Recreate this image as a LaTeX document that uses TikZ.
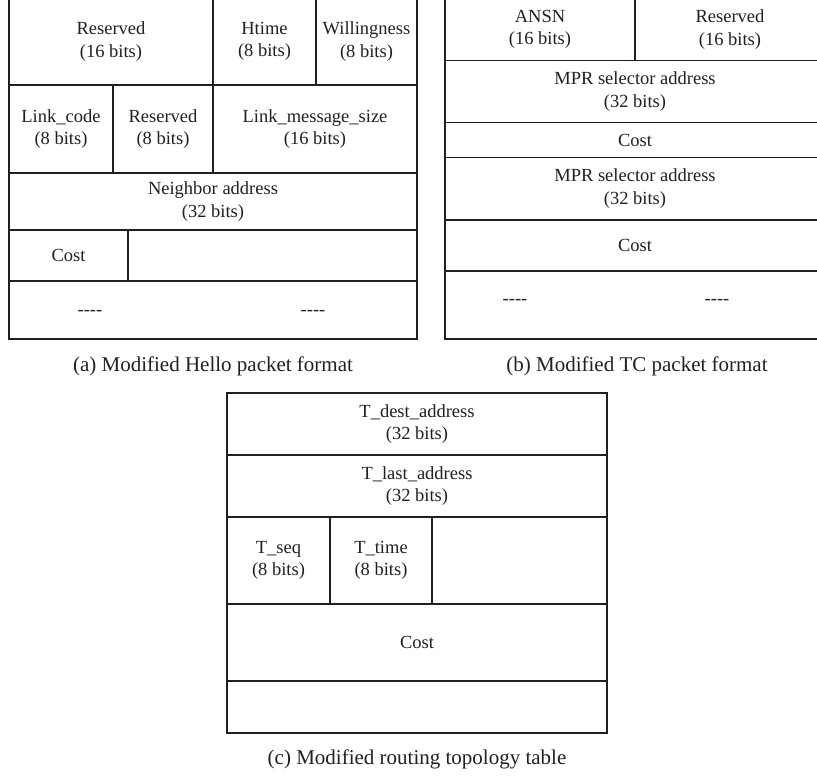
\documentclass[tikz,border=0pt]{standalone}
\usepackage{fontspec}
\setmainfont{Liberation Serif}
\definecolor{ink}{HTML}{231F20}
\newcommand{\cellfont}{\fontsize{18.5}{22.5}\selectfont}
\newcommand{\capfont}{\fontsize{21}{25}\selectfont}
\newcommand{\fld}[6]{\node[fld,minimum width={(#4)-(#2)},minimum height={(#5)-(#3)}] (#1) at ({((#2)+(#4))/2},{((#3)+(#5))/2}) {#6};}

\begin{document}
\begin{tikzpicture}[x=1pt,y=-1pt,line width=1.3pt,
  fld/.style={draw=ink,rectangle,inner sep=0pt,outer sep=0pt,align=center,font=\cellfont,text=ink},
  dashtxt/.style={font=\cellfont,text=ink,inner sep=0pt},
  captxt/.style={font=\capfont,text=ink,inner sep=0pt}]
\useasboundingbox (0,0) rectangle (817,777);
\clip (0,0) rectangle (817,777);
\fld{hres}{9}{-2}{213}{85}{Reserved\\(16 bits)}
\fld{htime}{213}{-2}{316}{85}{Htime\\(8 bits)}
\fld{hwill}{316}{-2}{417}{85}{Willingness\\(8 bits)}
\fld{hcode}{9}{85}{113}{173}{Link\_code\\(8 bits)}
\fld{hres2}{113}{85}{213}{173}{Reserved\\(8 bits)}
\fld{hsize}{213}{85}{417}{173}{Link\_message\_size\\(16 bits)}
\fld{hnbr}{9}{173}{417}{230}{Neighbor address\\(32 bits)}
\fld{hcost}{9}{230}{128}{281}{Cost}
\fld{hpad}{128}{230}{417}{281}{}
\fld{hmore}{9}{281}{417}{339}{}
\node[dashtxt] (hd1) at (90,312.5) {-{}-{}-{}-};
\node[dashtxt] (hd2) at (313,312.5) {-{}-{}-{}-};
\fld{tansn}{445}{-2}{635}{60.7}{ANSN\\(16 bits)}
\fld{tres}{635}{-2}{825}{60.7}{Reserved\\(16 bits)}
\fld{tmpr}{445}{60.7}{825}{122.7}{MPR selector address\\(32 bits)}
\fld{tcost}{445}{122.7}{825}{157.3}{Cost}
\fld{tmpr2}{445}{157.3}{825}{220}{MPR selector address\\(32 bits)}
\fld{tcost2}{445}{220}{825}{271}{Cost}
\fld{tmore}{445}{271}{825}{339}{}
\node[dashtxt] (td1) at (515,301.5) {-{}-{}-{}-};
\node[dashtxt] (td2) at (717,301.5) {-{}-{}-{}-};
\fld{rdest}{227}{393}{607}{455}{T\_dest\_address\\(32 bits)}
\fld{rlast}{227}{455}{607}{517}{T\_last\_address\\(32 bits)}
\fld{rseq}{227}{517}{330}{604}{T\_seq\\(8 bits)}
\fld{rtime}{330}{517}{432}{604}{T\_time\\(8 bits)}
\fld{rpad}{432}{517}{607}{604}{}
\fld{rcost}{227}{604}{607}{681}{Cost}
\fld{rend}{227}{681}{607}{733}{}
\node[captxt] (capa) at (213,366) {(a) Modified Hello packet format};
\node[captxt] (capb) at (637,366) {(b) Modified TC packet format};
\node[captxt] (capc) at (417,759) {(c) Modified routing topology table};
\end{tikzpicture}
\end{document}
